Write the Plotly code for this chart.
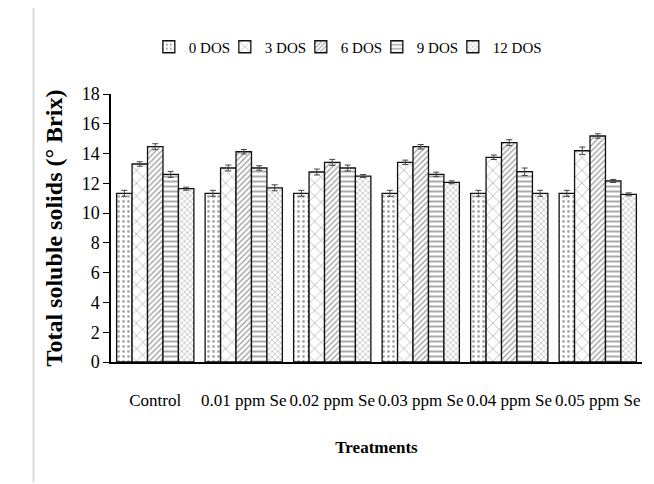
import plotly.graph_objects as go

treatments = ["Control", "0.01 ppm Se", "0.02 ppm Se", "0.03 ppm Se", "0.04 ppm Se", "0.05 ppm Se"]
series_names = ["0 DOS", "3 DOS", "6 DOS", "9 DOS", "12 DOS"]
dos0 = [11.33, 11.33, 11.33, 11.33, 11.33, 11.33]
dos3 = [13.30, 13.03, 12.76, 13.41, 13.75, 14.19]
dos6 = [14.46, 14.12, 13.41, 14.46, 14.73, 15.18]
dos9 = [12.60, 13.03, 13.03, 12.60, 12.78, 12.16]
dos12 = [11.64, 11.70, 12.49, 12.07, 11.33, 11.26]
err0 = [0.2, 0.2, 0.2, 0.2, 0.2, 0.2]
err3 = [0.15, 0.2, 0.2, 0.15, 0.15, 0.25]
err6 = [0.2, 0.15, 0.2, 0.15, 0.2, 0.15]
err9 = [0.2, 0.15, 0.2, 0.15, 0.25, 0.1]
err12 = [0.1, 0.2, 0.1, 0.1, 0.2, 0.1]

values = [dos0, dos3, dos6, dos9, dos12]
errors = [err0, err3, err6, err9, err12]
patterns = [
    dict(shape=".", size=5, solidity=0.25, fgcolor="#555555", bgcolor="white"),
    dict(shape="x", size=9, solidity=0.12, fgcolor="#222222", bgcolor="white"),
    dict(shape="/", size=4, solidity=0.35, fgcolor="#444444", bgcolor="white"),
    dict(shape="-", size=5, solidity=0.4, fgcolor="#555555", bgcolor="white"),
    dict(shape="x", size=4, solidity=0.3, fgcolor="#666666", bgcolor="white"),
]

font_family = "Liberation Serif"

fig = go.Figure()
for name, vals, errs, pat in zip(series_names, values, errors, patterns):
    fig.add_trace(go.Bar(
        name=name,
        x=treatments,
        y=vals,
        marker=dict(color="white", pattern=pat, line=dict(color="#111111", width=1.3)),
        error_y=dict(type="data", array=errs, color="#444444", thickness=1, width=3),
    ))

# invisible trailing legend spacer so the last entry's text is not clipped
fig.add_trace(go.Scatter(x=[None], y=[None], mode="markers", name=" ",
                         marker=dict(color="rgba(0,0,0,0)", size=1,
                                     line=dict(width=0, color="rgba(0,0,0,0)")),
                         hoverinfo="skip"))

W, H = 646, 476  # page body offsets the figure by 8px

fig.update_layout(
    barmode="group",
    bargap=0.127,
    bargroupgap=0,
    width=W,
    height=H,
    margin=dict(l=103, r=12, t=86, b=122),
    paper_bgcolor="white",
    plot_bgcolor="white",
    font=dict(family=font_family, color="black", size=16),
    legend=dict(
        orientation="h",
        xref="container", yref="container",
        x=0.218, xanchor="left",
        y=1 - 39 / H, yanchor="middle",
        font=dict(family=font_family, size=15),
        itemwidth=30,
        entrywidth=31,
        traceorder="normal",
    ),
    xaxis=dict(
        range=[-0.5, 5.5],
        automargin=False,
        showline=True, linecolor="black", linewidth=1.5,
        ticks="", showgrid=False,
        tickfont=dict(family=font_family, size=17),
        ticklabelstandoff=22,
        title=dict(text="<b>Treatments</b>", font=dict(family=font_family, size=17), standoff=32),
    ),
    yaxis=dict(
        range=[0, 18],
        dtick=2,
        automargin=False,
        showline=True, linecolor="black", linewidth=1.5,
        ticks="outside", ticklen=6, tickcolor="black",
        showgrid=False,
        tickfont=dict(family=font_family, size=18),
        title=dict(text="<b>Total soluble solids (° Brix)</b>", font=dict(family=font_family, size=24), standoff=12),
    ),
    shapes=[dict(type="line", xref="paper", yref="paper", x0=-0.146, x1=-0.146, y0=-0.45, y1=1.35,
                 line=dict(color="#dddddd", width=2))],
)

fig.write_html("out.html")
